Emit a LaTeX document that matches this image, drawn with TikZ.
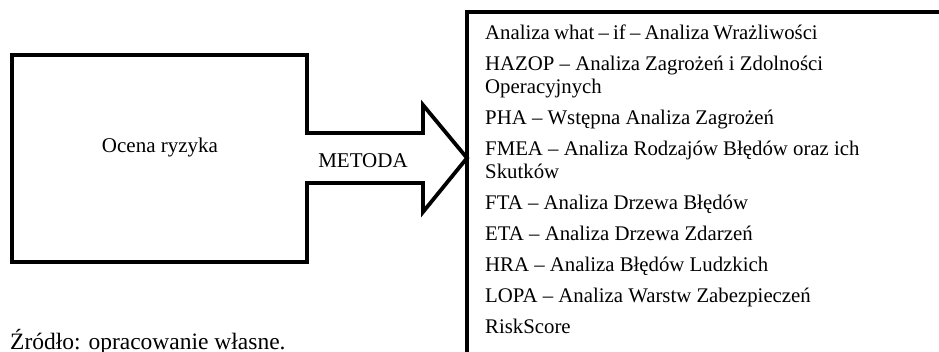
\documentclass[tikz,border=0pt]{standalone}
\usepackage{fontspec}
\setmainfont{Liberation Serif}
\begin{document}
\begin{tikzpicture}[x=1pt,y=-1pt,
  outline/.style={draw=black,line width=3.8pt,line join=miter},
  txt/.style={font=\fontsize{21}{24}\selectfont,inner sep=0pt},
  item/.style={font=\fontsize{20.8}{24}\selectfont,inner sep=0pt,anchor=base west}]
\useasboundingbox (0,0) rectangle (939,351);
\clip (0,0) rectangle (939,351);

% methods box (continues beyond the page on the right and below)
\coordinate (boxtl) at (467,12);
\draw[outline] (467,420) -- (boxtl) -- (990,12);

% assessment block with its arrow pointing at the methods box
\coordinate (tip) at (467,158);
\draw[outline] (12,55) -- (307,55) -- (307,133) -- (423,133) -- (423,105)
  -- (tip) -- (423,212) -- (423,183) -- (307,183) -- (307,262) -- (12,262) -- cycle;

\node[txt] (ocena) at (160,147) {Ocena ryzyka};
\node[txt] (metoda) at (363,161) {METODA};

% list of methods
\node[item] (m1)  at (485,39)  {\spaceskip=0.2em\relax Analiza what – if – Analiza Wrażliwości};
\node[item] (m2)  at (485,70)  {HAZOP – Analiza Zagrożeń i Zdolności};
\node[item] (m2b) at (485,93)  {Operacyjnych};
\node[item] (m3)  at (485,124) {PHA – Wstępna Analiza Zagrożeń};
\node[item] (m4)  at (485,155) {FMEA – Analiza Rodzajów Błędów oraz ich};
\node[item] (m4b) at (485,178) {Skutków};
\node[item] (m5)  at (485,209) {FTA – Analiza Drzewa Błędów};
\node[item] (m6)  at (485,240) {ETA – Analiza Drzewa Zdarzeń};
\node[item] (m7)  at (485,271) {HRA – Analiza Błędów Ludzkich};
\node[item] (m8)  at (485,302) {LOPA – Analiza Warstw Zabezpieczeń};
\node[item] (m9)  at (485,333) {RiskScore};

\node[anchor=base west,inner sep=0pt,font=\fontsize{23.5}{28}\selectfont] (zrodlo) at (10,349) {Źródło: opracowanie własne.};
\end{tikzpicture}
\end{document}
